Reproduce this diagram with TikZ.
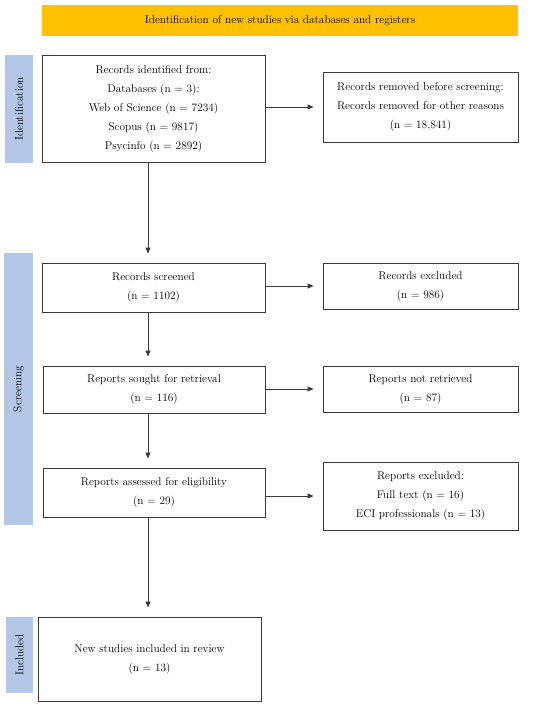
\documentclass[tikz,border=0pt]{standalone}
\usetikzlibrary{arrows.meta}
\definecolor{hdr}{HTML}{FFC000}
\definecolor{side}{HTML}{B4C7E7}
\definecolor{edge}{HTML}{3A3A3A}
\begin{document}
\begin{tikzpicture}[x=1pt,y=-1pt,
  box/.style={draw=edge,line width=0.9pt,fill=white,inner sep=0pt,align=center,
    font=\fontsize{11.3}{19}\selectfont},
  bar/.style={fill=side,inner sep=0pt},
  barlabel/.style={rotate=90,font=\fontsize{11.3}{13}\selectfont},
  arr/.style={draw=edge,line width=0.9pt,-{Triangle[length=6pt,width=5pt]},shorten >=9pt}]
\useasboundingbox (0,0) rectangle (550,706);
% header
\node[fill=hdr,minimum width=476pt,minimum height=31pt,inner sep=0pt,
  font=\fontsize{11.3}{13}\selectfont] (hd) at (280,20.5)
  {Identification of new studies via databases and registers};
% side bars
\node[bar,minimum width=28pt,minimum height=108pt] (idb) at (19,109) {};
\node[barlabel] (idl) at (idb.center) {Identification};
\node[bar,minimum width=29pt,minimum height=272pt] (scb) at (18.5,389) {};
\node[barlabel] (scl) at (scb.center) {Screening};
\node[bar,minimum width=27pt,minimum height=76pt] (inb) at (19.5,655) {};
\node[barlabel] (inl) at (inb.center) {Included};
% boxes
\node[box,minimum width=223pt,minimum height=107pt] (b1) at (153.5,108.5)
  {Records identified from:\\ Databases (n = 3):\\ Web of Science (n = 7234)\\ Scopus (n = 9817)\\ Psycinfo (n = 2892)};
\node[box,minimum width=195pt,minimum height=70pt] (rm) at (420.5,107)
  {Records removed before screening:\\ Records removed for other reasons\\ (n = 18,841)};
\node[box,minimum width=223pt,minimum height=49pt] (sc) at (153.5,287.5)
  {Records screened\\ (n = 1102)};
\node[box,minimum width=195pt,minimum height=46pt] (ex) at (420.5,286)
  {Records excluded\\ (n = 986)};
\node[box,minimum width=222pt,minimum height=47pt] (so) at (154,389.5)
  {Reports sought for retrieval\\ (n = 116)};
\node[box,minimum width=195pt,minimum height=46pt] (nr) at (420.5,389)
  {Reports not retrieved\\ (n = 87)};
\node[box,minimum width=222pt,minimum height=49pt] (as) at (154,492.5)
  {Reports assessed for eligibility\\ (n = 29)};
\node[box,minimum width=195pt,minimum height=68pt] (re) at (420.5,496)
  {Reports excluded:\\ Full text (n = 16)\\ ECI professionals (n = 13)};
\node[box,minimum width=223pt,minimum height=84pt] (ic) at (149.5,659)
  {New studies included in review\\ (n = 13)};
% connectors
\coordinate (vx) at (148,0);
\draw[arr] (b1.south -| vx) -- (sc.north -| vx);
\draw[arr] (sc.south -| vx) -- (so.north -| vx);
\draw[arr] (so.south -| vx) -- (as.north -| vx);
\draw[arr] (as.south -| vx) -- (ic.north -| vx);
\draw[arr] (b1.east |- rm.west) -- (rm.west);
\draw[arr] (sc.east |- ex.west) -- (ex.west);
\draw[arr] (so.east |- nr.west) -- (nr.west);
\draw[arr] (as.east |- re.west) -- (re.west);
\end{tikzpicture}
\end{document}
